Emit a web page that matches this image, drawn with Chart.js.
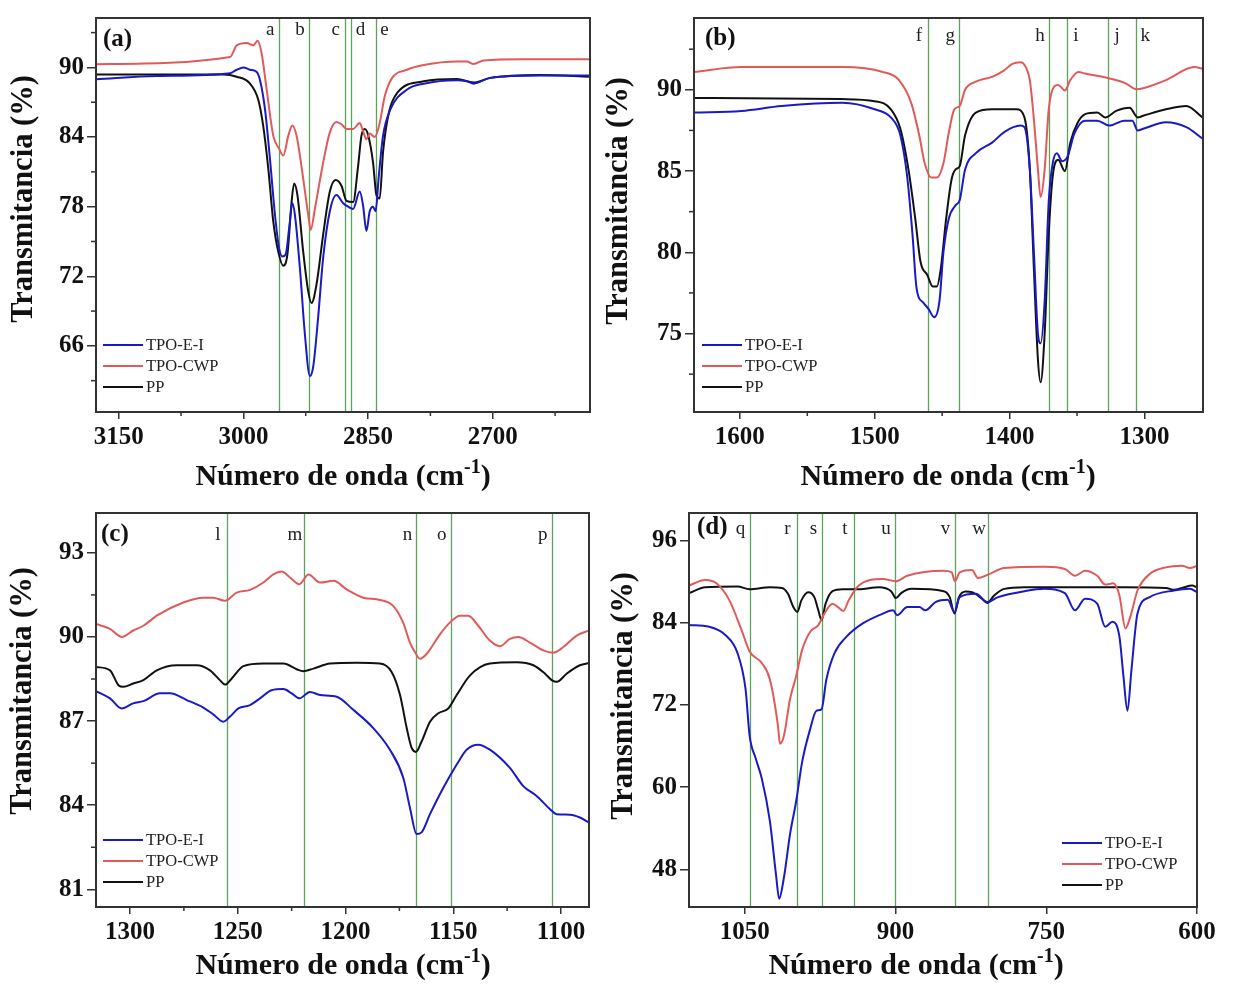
<!DOCTYPE html>
<html>
<head>
<meta charset="utf-8">
<script src="https://cdn.jsdelivr.net/npm/chart.js@4.4.1/dist/chart.umd.min.js"></script>
<style>
  body { margin: 0; background: #fff; }
  #wrap { position: relative; width: 1234px; height: 985px; background: #fff; }
  canvas { position: absolute; }
</style>
</head>
<body>
<div id="wrap">
  <canvas id="chart_a" width="600" height="495" style="left:0;top:0"></canvas>
  <canvas id="chart_b" width="634" height="495" style="left:600px;top:0"></canvas>
  <canvas id="chart_c" width="600" height="490" style="left:0;top:495px"></canvas>
  <canvas id="chart_d" width="634" height="490" style="left:600px;top:495px"></canvas>
</div>
<script>
// series names, same order in every panel
const series_names = ["TPO-E-I", "TPO-CWP", "PP"];
const series_colors = ["#1a1ac4", "#e05a5a", "#111111"];
const band_color = "#5aa55a";
const serif = '"Liberation Serif", "Times New Roman", serif';

// ---- panel (a) 3180-2580 cm-1 : [wavenumber, transmitance] ----
const a_tpo_ei = [[3177,88.98],[3104,89.26],[3016,89.5],[3008,89.8],[3000,90.0],[2992,89.8],[2984,89.6],[2980,88.9],[2974,86.4],[2968,82.1],[2962,77.3],[2957,74.4],[2953,73.7],[2949,73.9],[2945,76.1],[2941,78.3],[2938,77.3],[2932,72.7],[2926,67.0],[2920,63.4],[2916,64.2],[2910,68.5],[2904,73.6],[2896,77.6],[2888,79.0],[2880,78.3],[2874,78.0],[2868,77.8],[2860,79.3],[2856,78.1],[2852,75.9],[2848,77.6],[2844,78.0],[2841,77.6],[2837,80.7],[2832,84.1],[2823,86.4],[2803,88.1],[2783,88.6],[2743,88.9],[2731,88.8],[2723,88.6],[2703,89.1],[2643,89.3],[2583,89.3]];
const a_tpo_cwp = [[3177,90.28],[3016,90.9],[3008,91.9],[2996,92.1],[2988,91.9],[2983,92.3],[2978,91.2],[2972,88.1],[2964,84.1],[2957,83.0],[2952,82.4],[2946,84.1],[2941,85.0],[2936,84.1],[2928,80.4],[2922,77.3],[2919,76.0],[2914,77.8],[2904,81.8],[2896,84.4],[2888,85.3],[2882,85.1],[2876,84.7],[2868,84.7],[2860,85.2],[2856,84.5],[2852,83.8],[2848,84.3],[2842,84.0],[2836,85.2],[2830,87.5],[2821,89.1],[2803,89.8],[2783,90.2],[2743,90.5],[2731,90.5],[2723,90.3],[2711,90.6],[2663,90.7],[2583,90.7]];
const a_pp = [[3177,89.4],[3024,89.4],[3008,89.2],[2992,88.6],[2982,87.2],[2976,84.9],[2970,81.25],[2964,76.7],[2958,74.1],[2952,72.9],[2947,73.9],[2942,78.4],[2939,80.0],[2935,79.0],[2928,74.1],[2922,70.7],[2918,69.7],[2912,71.3],[2904,75.6],[2896,79.3],[2889,80.3],[2882,79.8],[2876,78.5],[2868,78.4],[2862,81.5],[2858,84.1],[2854,84.7],[2850,84.2],[2844,81.8],[2840,79.0],[2836,78.7],[2832,82.7],[2825,86.1],[2815,87.8],[2783,88.8],[2743,89.0],[2723,88.7],[2703,89.1],[2643,89.35],[2583,89.2]];
const a_x_ticks = [3150, 3000, 2850, 2700];
const a_y_ticks = [66, 72, 78, 84, 90];
const a_bands = [2957, 2921, 2878, 2870, 2841];
const a_band_labels = ["a", "b", "c", "d", "e"];
const a_band_sides = [-1, -1, -1, 1, 1];

// ---- panel (b) 1634-1257 cm-1 ----
const b_tpo_ei = [[1634,88.6],[1599,88.7],[1569,89.0],[1524,89.2],[1500,88.8],[1488,88.3],[1481,87.2],[1476,84.7],[1472,81.1],[1469,77.8],[1464,76.9],[1460,76.5],[1456,76.0],[1452,77.0],[1449,80.05],[1445,82.1],[1440,82.9],[1437,83.2],[1433,85.1],[1425,86.1],[1413,86.75],[1404,87.4],[1392,87.8],[1389,87.7],[1385,85.1],[1382,80.05],[1379,75.0],[1377,74.4],[1374,77.0],[1371,83.1],[1368,85.5],[1365,86.1],[1361,85.6],[1357,85.9],[1352,87.3],[1344,88.1],[1335,88.1],[1326,87.8],[1315,88.1],[1309,88.1],[1305,87.5],[1301,87.6],[1284,88.0],[1269,87.7],[1257,87.0]];
const b_tpo_cwp = [[1634,91.1],[1599,91.4],[1524,91.4],[1494,91.1],[1482,90.6],[1473,89.2],[1467,87.2],[1463,85.5],[1458,84.6],[1454,84.6],[1449,85.5],[1445,87.4],[1441,88.8],[1437,89.0],[1433,90.0],[1425,90.5],[1413,90.8],[1404,91.2],[1398,91.6],[1392,91.7],[1388,91.4],[1385,90.6],[1382,88.2],[1379,85.1],[1377,83.4],[1374,85.1],[1371,88.8],[1367,90.2],[1364,90.3],[1359,89.96],[1355,90.6],[1349,91.1],[1344,91.0],[1326,90.7],[1314,90.4],[1306,90.04],[1301,90.1],[1284,90.6],[1263,91.4],[1257,91.3]];
const b_pp = [[1634,89.5],[1524,89.43],[1500,89.3],[1488,88.8],[1481,87.6],[1475,85.1],[1470,82.1],[1466,79.4],[1461,78.6],[1457,77.9],[1454,77.9],[1451,79.0],[1447,82.1],[1443,84.5],[1440,85.1],[1437,85.3],[1433,87.2],[1425,88.6],[1413,88.8],[1395,88.8],[1389,88.3],[1385,85.1],[1382,79.0],[1379,73.4],[1377,72.0],[1374,75.0],[1371,81.1],[1368,84.7],[1364,85.7],[1359,85.0],[1355,86.75],[1350,87.9],[1344,88.5],[1335,88.6],[1329,88.3],[1321,88.7],[1311,88.9],[1305,88.3],[1301,88.4],[1284,88.8],[1269,89.0],[1257,88.3]];
const b_x_ticks = [1600, 1500, 1400, 1300];
const b_y_ticks = [75, 80, 85, 90];
const b_bands = [1460.5, 1437.4, 1370.7, 1357.5, 1327, 1306];
const b_band_labels = ["f", "g", "h", "i", "j", "k"];
const b_band_sides = [-1, -1, -1, 1, 1, 1];

// ---- panel (c) 1316-1087 cm-1 ----
const c_tpo_ei = [[1315.8,88.07],[1309.3,87.81],[1303.9,87.45],[1298.5,87.63],[1293.8,87.71],[1286.1,87.99],[1281.4,87.99],[1273.7,87.75],[1266,87.48],[1261.4,87.24],[1256.7,86.98],[1253.6,87.16],[1249.7,87.45],[1244.3,87.57],[1239.7,87.81],[1234.3,88.1],[1228.8,88.14],[1225,87.99],[1221.4,87.81],[1216.5,88.04],[1211.8,87.93],[1204.1,87.87],[1196.4,87.4],[1187.1,86.75],[1179.4,85.98],[1173.2,84.98],[1170.1,83.91],[1167,82.97],[1164.7,83.03],[1160.8,83.68],[1154.6,84.62],[1148.4,85.45],[1143.8,85.98],[1138.4,86.16],[1133,85.98],[1123.7,85.33],[1117.5,84.68],[1111.3,84.33],[1105.1,83.86],[1102,83.68],[1095.8,83.66],[1091.2,83.56],[1087,83.38]];
const c_tpo_cwp = [[1315.8,90.46],[1309.3,90.29],[1303.9,90.0],[1298.5,90.23],[1293.8,90.4],[1287.6,90.76],[1275.3,91.23],[1266,91.4],[1261.4,91.4],[1256,91.29],[1250.5,91.58],[1244.3,91.68],[1238.1,91.94],[1233.5,92.23],[1229.6,92.33],[1225.8,92.12],[1221.4,91.88],[1217.2,92.23],[1211.8,91.94],[1205.6,92.0],[1199.5,91.7],[1191.7,91.4],[1184,91.32],[1177.8,91.1],[1173.2,90.5],[1170.1,89.8],[1167.8,89.46],[1165.4,89.22],[1162.3,89.4],[1156.1,90.1],[1151.5,90.52],[1146.9,90.76],[1143,90.76],[1138.4,90.4],[1133,89.87],[1128.3,89.67],[1123.7,89.93],[1119.8,90.0],[1114.4,89.8],[1108.2,89.52],[1103.6,89.44],[1098.9,89.64],[1092.7,90.05],[1087,90.23]];
const c_pp = [[1315.8,88.93],[1309.3,88.81],[1305.4,88.28],[1303.1,88.22],[1298.5,88.34],[1293.8,88.46],[1287.6,88.81],[1278.3,88.99],[1269.1,88.99],[1262.9,88.81],[1258.3,88.46],[1255.9,88.3],[1252.8,88.52],[1247.4,88.96],[1238.1,89.05],[1228.8,89.05],[1222.7,88.85],[1219.6,88.78],[1214.9,88.87],[1207.2,89.05],[1194.8,89.08],[1184,89.05],[1178.6,88.75],[1174.7,87.93],[1171.6,86.75],[1169.3,86.04],[1167.3,85.9],[1164.7,86.27],[1160.8,86.98],[1156.9,87.28],[1152.3,87.45],[1148.4,87.93],[1142.2,88.63],[1133,89.05],[1120.6,89.1],[1112.8,88.99],[1107.4,88.69],[1104.3,88.46],[1101.9,88.4],[1097.4,88.69],[1091.2,88.99],[1087,89.07]];
const c_x_ticks = [1300, 1250, 1200, 1150, 1100];
const c_y_ticks = [81, 84, 87, 90, 93];
const c_bands = [1255, 1219.3, 1167.1, 1151.2, 1104.3];
const c_band_labels = ["l", "m", "n", "o", "p"];
const c_band_sides = [-1, -1, -1, -1, -1];

// ---- panel (d) 1105-600 cm-1 ----
const d_tpo_ei = [[1105.5,83.64],[1085.4,83.4],[1069.3,82.2],[1057.2,79.55],[1049.2,74.26],[1045.2,67.52],[1039.1,64.16],[1033.1,61.27],[1025,55.02],[1019,47.32],[1015.8,43.72],[1011,46.84],[1005,53.1],[998.9,57.9],[992.9,63.68],[984.9,68.49],[978.8,71.13],[973.6,71.37],[968.8,75.7],[960.7,79.55],[948.7,81.95],[932.6,83.88],[912.5,85.32],[902.4,85.8],[898.4,85.08],[888.3,86.28],[876.3,86.28],[870.3,85.8],[860.2,87.0],[848.1,87.34],[841.3,85.56],[836.1,87.73],[820,88.21],[808.7,87.0],[797.9,87.73],[771.7,88.59],[751.6,88.93],[731.5,88.3],[721.4,85.8],[711.4,87.49],[699.3,86.76],[691.3,83.4],[684.1,84.12],[677.2,81.96],[673.2,76.18],[669.2,71.13],[665.2,77.15],[659.2,85.32],[647.1,87.73],[623,88.69],[607,88.93],[600,88.45]];
const d_tpo_cwp = [[1105.5,89.41],[1089.4,90.23],[1077.3,89.65],[1065.3,87.25],[1053.2,82.92],[1045.2,79.79],[1033.1,78.11],[1025,75.7],[1017,68.97],[1015,66.32],[1011,67.52],[1005,72.82],[998.9,76.18],[992.9,80.03],[984.9,82.68],[976.8,83.64],[970.8,85.32],[962.7,86.76],[956.7,86.19],[951.9,85.71],[946.6,87.25],[936.6,89.41],[912.5,90.37],[899.6,90.04],[888.3,90.85],[852.1,91.57],[844.1,91.33],[840.9,90.04],[836.1,91.33],[824,91.67],[818,90.52],[808,91.0],[791.8,91.96],[751.6,92.15],[731.5,91.82],[721.4,90.85],[711.4,91.57],[699.3,90.85],[691.3,89.55],[683.3,89.75],[677.2,87.97],[671.2,83.16],[666.4,84.84],[659.2,88.69],[647.1,91.09],[631,92.06],[615,92.3],[607,91.96],[600,92.3]];
const d_pp = [[1105.5,88.3],[1089.4,89.17],[1057.2,89.27],[1045.2,88.88],[1025,89.17],[1013,89.07],[1007,88.2],[1001.7,86.28],[997.7,85.56],[993.7,87.25],[986.9,88.45],[980.8,87.73],[976.8,85.8],[973.6,84.36],[969.6,86.76],[962.7,88.59],[952.7,88.88],[936.6,88.88],[916.5,89.17],[904.4,88.59],[899.6,87.58],[894.4,88.3],[884.3,88.93],[852.1,88.59],[846.1,87.73],[841.3,85.32],[836.9,87.73],[830,88.54],[824,88.45],[814,87.49],[808.7,86.86],[801.9,87.97],[791.8,88.93],[771.7,89.17],[711.4,89.17],[671.2,89.17],[630.9,89.07],[622.9,88.79],[614.8,89.07],[604.8,89.41],[600,89.17]];
const d_x_ticks = [1050, 900, 750, 600];
const d_y_ticks = [48, 60, 72, 84, 96];
const d_bands = [1045.2, 998.5, 972.8, 941.4, 900.4, 841.3, 807.9];
const d_band_labels = ["q", "r", "s", "t", "u", "v", "w"];
const d_band_sides = [-1, -1, -1, -1, -1, -1, -1];

// draws the frame, minor ticks, band lines + letters, legend and axis titles
const panel_decor = {
    id: "panel_decor",
    beforeDatasetsDraw(chart, args, o) {
        const ctx = chart.ctx, ca = chart.chartArea, x = chart.scales.x;
        ctx.save();
        ctx.strokeStyle = band_color;
        ctx.lineWidth = 1.3;
        o.bands.forEach(function (b) {
            const px = Math.round(x.getPixelForValue(b)) + 0.5;
            ctx.beginPath();
            ctx.moveTo(px, ca.top);
            ctx.lineTo(px, ca.bottom);
            ctx.stroke();
        });
        ctx.restore();
    },
    afterDraw(chart, args, o) {
        const ctx = chart.ctx, ca = chart.chartArea, x = chart.scales.x, y = chart.scales.y;
        ctx.save();

        // frame
        ctx.strokeStyle = "#333";
        ctx.lineWidth = 2;
        ctx.strokeRect(ca.left, ca.top, ca.right - ca.left, ca.bottom - ca.top);

        // minor ticks (half way between the major ones)
        ctx.lineWidth = 1.5;
        if (o.minor_x) {
            for (let v = Math.ceil(x.min / o.minor_x) * o.minor_x; v <= x.max; v += o.minor_x) {
                if (o.x_ticks.indexOf(v) >= 0 || (v / o.minor_x) % 2 === 0) continue;
                const px = x.getPixelForValue(v);
                ctx.beginPath(); ctx.moveTo(px, ca.bottom); ctx.lineTo(px, ca.bottom + 4); ctx.stroke();
            }
        }
        if (o.minor_y) {
            for (let v = Math.ceil(y.min / o.minor_y) * o.minor_y; v <= y.max; v += o.minor_y) {
                if (Math.abs(v / (2 * o.minor_y) - Math.round(v / (2 * o.minor_y))) < 1e-6) continue;
                const py = y.getPixelForValue(v);
                ctx.beginPath(); ctx.moveTo(ca.left - 5, py); ctx.lineTo(ca.left, py); ctx.stroke();
            }
        }

        // band letters
        ctx.fillStyle = "#222";
        ctx.font = "19px " + serif;
        ctx.textAlign = "center";
        ctx.textBaseline = "middle";
        o.bands.forEach(function (b, i) {
            const px = x.getPixelForValue(b) + o.band_sides[i] * 9;
            ctx.fillText(o.band_labels[i], px, ca.top + o.label_dy);
        });

        // panel letter
        ctx.font = "bold 25px " + serif;
        ctx.textAlign = "left";
        ctx.fillStyle = "#111";
        ctx.fillText(o.panel, ca.left + o.panel_dx, ca.top + o.panel_dy);

        // legend
        ctx.font = "16.5px " + serif;
        ctx.fillStyle = "#222";
        series_names.forEach(function (name, i) {
            const ly = o.legend_y + i * 21;
            ctx.strokeStyle = series_colors[i];
            ctx.lineWidth = 2;
            ctx.beginPath(); ctx.moveTo(o.legend_x, ly); ctx.lineTo(o.legend_x + 40, ly); ctx.stroke();
            ctx.fillText(name, o.legend_x + 43, ly + 1);
        });

        // x title with superscript
        ctx.fillStyle = "#111";
        ctx.textBaseline = "alphabetic";
        const f_main = "bold 30px " + serif, f_sup = "bold 20px " + serif;
        const t1 = "Número de onda (cm", t2 = "-1", t3 = ")";
        ctx.font = f_main;
        const w1 = ctx.measureText(t1).width, w3 = ctx.measureText(t3).width;
        ctx.font = f_sup;
        const w2 = ctx.measureText(t2).width;
        let sx = o.xtitle_cx - (w1 + w2 + w3) / 2;
        ctx.font = f_main; ctx.fillText(t1, sx, o.xtitle_y); sx += w1;
        ctx.font = f_sup; ctx.fillText(t2, sx, o.xtitle_y - 12); sx += w2;
        ctx.font = f_main; ctx.fillText(t3, sx, o.xtitle_y);

        // y title
        ctx.translate(o.ytitle_cx, o.ytitle_cy);
        ctx.rotate(-Math.PI / 2);
        ctx.textAlign = "center";
        ctx.textBaseline = "middle";
        ctx.font = "bold 30.5px " + serif;
        ctx.fillText("Transmitancia (%)", 0, 0);
        ctx.restore();
    }
};

function to_points(pairs) {
    return pairs.map(function (p) { return {x: p[0], y: p[1]}; });
}

function make_chart(id, cfg) {
    const tick_font = {family: serif, size: 25, weight: "bold"};
    const datasets = cfg.data.map(function (pairs, i) {
        return {
            label: series_names[i],
            data: to_points(pairs),
            borderColor: series_colors[i],
            borderWidth: 2,
            pointRadius: 0,
            cubicInterpolationMode: "monotone",
            fill: false
        };
    });
    return new Chart(document.getElementById(id).getContext("2d"), {
        type: "line",
        data: {datasets: datasets},
        plugins: [panel_decor],
        options: {
            responsive: false,
            animation: false,
            devicePixelRatio: 1,
            layout: {padding: {left: 0, top: cfg.pad_top, right: cfg.pad_right, bottom: 0}},
            plugins: {
                legend: {display: false},
                tooltip: {enabled: false},
                panel_decor: cfg.decor
            },
            scales: {
                x: {
                    type: "linear",
                    reverse: true,
                    min: cfg.x_min,
                    max: cfg.x_max,
                    afterBuildTicks: function (s) { s.ticks = cfg.x_ticks.map(function (v) { return {value: v}; }); },
                    afterFit: function (s) { s.height = cfg.x_height; },
                    border: {display: false},
                    grid: {drawOnChartArea: false, tickLength: 7, color: "#333", lineWidth: 1.5},
                    ticks: {
                        maxRotation: 0,
                        autoSkip: false,
                        padding: 4,
                        color: "#111",
                        font: tick_font,
                        callback: function (v) { return String(v); }
                    }
                },
                y: {
                    type: "linear",
                    min: cfg.y_min,
                    max: cfg.y_max,
                    afterBuildTicks: function (s) { s.ticks = cfg.y_ticks.map(function (v) { return {value: v}; }); },
                    afterFit: function (s) { s.width = cfg.y_width; },
                    border: {display: false},
                    grid: {drawOnChartArea: false, tickLength: 9, color: "#333", lineWidth: 1.5},
                    ticks: {
                        autoSkip: false,
                        padding: 3,
                        color: "#111",
                        font: tick_font,
                        callback: function (v) { return String(v); }
                    }
                }
            }
        }
    });
}

make_chart("chart_a", {
    data: [a_tpo_ei, a_tpo_cwp, a_pp], x_ticks: a_x_ticks, y_ticks: a_y_ticks,
    x_min: 2583, x_max: 3177.3, y_min: 60.3, y_max: 94.26,
    pad_top: 14, pad_right: 10, y_width: 96, x_height: 83,
    decor: {
        bands: a_bands, band_labels: a_band_labels, band_sides: a_band_sides,
        x_ticks: a_x_ticks, minor_x: 75, minor_y: 3,
        label_dy: 12, panel: "(a)", panel_dx: 7, panel_dy: 22,
        legend_x: 103, legend_y: 345,
        xtitle_cx: 343, xtitle_y: 485, ytitle_cx: 24, ytitle_cy: 199
    }
});

make_chart("chart_b", {
    data: [b_tpo_ei, b_tpo_cwp, b_pp], x_ticks: b_x_ticks, y_ticks: b_y_ticks,
    x_min: 1256.6, x_max: 1634, y_min: 70.17, y_max: 94.42,
    pad_top: 14, pad_right: 31, y_width: 94, x_height: 83,
    decor: {
        bands: b_bands, band_labels: b_band_labels, band_sides: b_band_sides,
        x_ticks: b_x_ticks, minor_x: 50, minor_y: 2.5,
        label_dy: 18, panel: "(b)", panel_dx: 11, panel_dy: 21,
        legend_x: 102, legend_y: 345,
        xtitle_cx: 348, xtitle_y: 485, ytitle_cx: 19, ytitle_cy: 201
    }
});

make_chart("chart_c", {
    data: [c_tpo_ei, c_tpo_cwp, c_pp], x_ticks: c_x_ticks, y_ticks: c_y_ticks,
    x_min: 1087, x_max: 1315.8, y_min: 80.37, y_max: 94.42,
    pad_top: 15, pad_right: 11, y_width: 96, x_height: 78,
    decor: {
        bands: c_bands, band_labels: c_band_labels, band_sides: c_band_sides,
        x_ticks: c_x_ticks, minor_x: 25, minor_y: 1.5,
        label_dy: 22, panel: "(c)", panel_dx: 5, panel_dy: 22,
        legend_x: 103, legend_y: 345,
        xtitle_cx: 343, xtitle_y: 479, ytitle_cx: 23, ytitle_cy: 196
    }
});

make_chart("chart_d", {
    data: [d_tpo_ei, d_tpo_cwp, d_pp], x_ticks: d_x_ticks, y_ticks: d_y_ticks,
    x_min: 600, x_max: 1105.5, y_min: 42.5, y_max: 100,
    pad_top: 13, pad_right: 37, y_width: 89, x_height: 78,
    decor: {
        bands: d_bands, band_labels: d_band_labels, band_sides: d_band_sides,
        x_ticks: d_x_ticks, minor_x: null, minor_y: null,
        label_dy: 16, panel: "(d)", panel_dx: 8, panel_dy: 15,
        legend_x: 462, legend_y: 348,
        xtitle_cx: 316, xtitle_y: 479, ytitle_cx: 24, ytitle_cy: 201
    }
});
</script>
</body>
</html>
